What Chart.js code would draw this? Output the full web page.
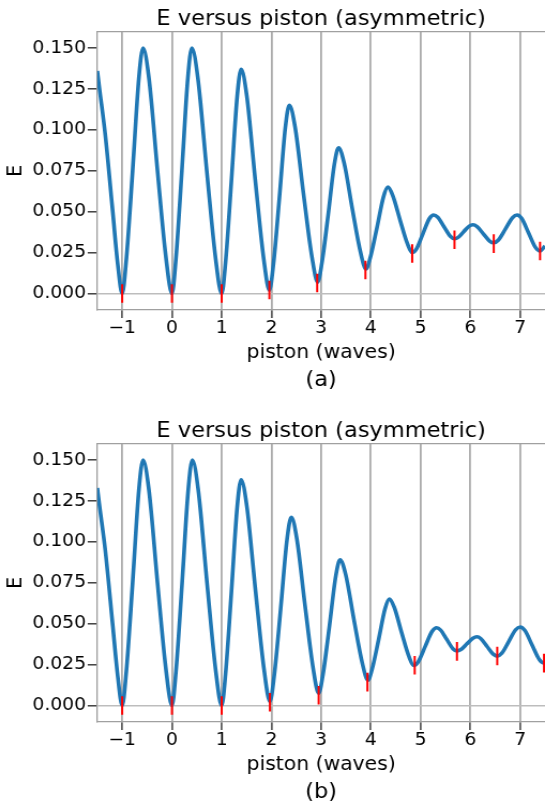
<!DOCTYPE html>
<html>
<head>
<meta charset="utf-8">
<script src="https://cdn.jsdelivr.net/npm/chart.js@4"></script>
<style>
  html, body { margin: 0; padding: 0; background: #fff; }
  body { width: 545px; height: 806px; position: relative; overflow: hidden; }
  canvas { position: absolute; left: 0; }
  #chartA { top: 0; }
  #chartB { top: 412px; }
</style>
</head>
<body>
<canvas id="chartA" width="509" height="394" style="width:545px;height:394px"></canvas>
<canvas id="chartB" width="509" height="394" style="width:545px;height:394px"></canvas>
<script>
// curve (a)
const pistonA = [-1.5, -1.46, -1.34, -1.19, -1.09, -1.0, -0.916, -0.79, -0.664, -0.58,
    -0.464, -0.29, -0.116, 0.0, 0.08, 0.2, 0.32, 0.40, 0.52, 0.70,
    0.88, 1.00, 1.078, 1.195, 1.312, 1.39, 1.504, 1.675, 1.846, 1.96,
    2.04, 2.16, 2.28, 2.36, 2.474, 2.645, 2.816, 2.93, 3.014, 3.14,
    3.266, 3.35, 3.46, 3.625, 3.79, 3.90, 3.988, 4.12, 4.252, 4.34,
    4.438, 4.585, 4.732, 4.83, 4.916, 5.045, 5.174, 5.26, 5.344, 5.47,
    5.596, 5.68, 5.754, 5.865, 5.976, 6.05, 6.134, 6.26, 6.386, 6.47,
    6.564, 6.705, 6.846, 6.94, 7.032, 7.17, 7.308, 7.40, 7.50];
const energyA = [0.136, 0.126, 0.097, 0.050, 0.018, 0.000, 0.021, 0.075, 0.132, 0.150,
    0.132, 0.075, 0.021, 0.000, 0.021, 0.075, 0.132, 0.150, 0.132, 0.075,
    0.021, 0.000, 0.019, 0.0685, 0.1206, 0.137, 0.121, 0.0695, 0.021, 0.002,
    0.0178, 0.0585, 0.1014, 0.115, 0.102, 0.061, 0.022, 0.007, 0.0185, 0.048,
    0.0792, 0.089, 0.080, 0.052, 0.0254, 0.015, 0.022, 0.040, 0.059, 0.065,
    0.060, 0.045, 0.0306, 0.025, 0.0273, 0.0365, 0.0457, 0.048, 0.0466, 0.0408,
    0.035, 0.0335, 0.0343, 0.0378, 0.0412, 0.042, 0.0409, 0.0365, 0.0321, 0.031,
    0.0327, 0.0395, 0.0463, 0.048, 0.0458, 0.037, 0.0282, 0.026, 0.029];

// curve (b)
const pistonB = [-1.5, -1.46, -1.34, -1.19, -1.09, -1.0, -0.916, -0.79, -0.664, -0.58,
    -0.464, -0.29, -0.116, 0.0, 0.082, 0.205, 0.328, 0.41, 0.528, 0.705,
    0.882, 1.0, 1.078, 1.195, 1.312, 1.39, 1.506, 1.68, 1.854, 1.97,
    2.056, 2.185, 2.314, 2.40, 2.51, 2.675, 2.84, 2.95, 3.036, 3.165,
    3.294, 3.38, 3.492, 3.66, 3.828, 3.94, 4.026, 4.155, 4.284, 4.37,
    4.468, 4.615, 4.762, 4.86, 4.952, 5.09, 5.228, 5.32, 5.402, 5.525,
    5.648, 5.73, 5.81, 5.93, 6.05, 6.13, 6.212, 6.335, 6.458, 6.54,
    6.632, 6.77, 6.908, 7.0, 7.096, 7.24, 7.384, 7.48, 7.5];
const energyB = [0.133, 0.123, 0.095, 0.049, 0.018, 0.0, 0.021, 0.075, 0.132, 0.150,
    0.132, 0.075, 0.021, 0.0, 0.021, 0.075, 0.132, 0.150, 0.132, 0.075,
    0.021, 0.0, 0.0193, 0.069, 0.1214, 0.138, 0.1217, 0.0703, 0.0215, 0.0025,
    0.0183, 0.0588, 0.1015, 0.115, 0.102, 0.0613, 0.0225, 0.0075, 0.0189, 0.0483,
    0.0792, 0.089, 0.0802, 0.0523, 0.0258, 0.0155, 0.0224, 0.0403, 0.0591, 0.065,
    0.0601, 0.0448, 0.0302, 0.0245, 0.0268, 0.036, 0.0452, 0.0475, 0.0461, 0.0404,
    0.0347, 0.0333, 0.0342, 0.0377, 0.0411, 0.042, 0.0408, 0.0361, 0.0314, 0.0302,
    0.032, 0.0391, 0.0462, 0.048, 0.0458, 0.037, 0.0282, 0.026, 0.0262];

// red minimum markers
const minPistonA = [-1, 0, 1, 1.96, 2.92, 3.89, 4.83, 5.68, 6.47, 7.40];
const minEnergyA = [0, 0, 0, 0.0022, 0.0064, 0.0144, 0.0245, 0.0329, 0.0305, 0.026];
const minPistonB = [-1, 0, 1, 1.97, 2.95, 3.93, 4.88, 5.73, 6.54, 7.48];
const minEnergyB = [0, 0, 0, 0.002, 0.0063, 0.0143, 0.0246, 0.0331, 0.0303, 0.0259];

const xTicks = [-1, 0, 1, 2, 3, 4, 5, 6, 7];
const yTicks = [0, 0.025, 0.05, 0.075, 0.1, 0.125, 0.15];

// the original figure is a little stretched sideways, canvas is 509 wide shown at 545
const squeeze = 545 / 509;
const spine = '#a0a0a0';

Chart.defaults.font.family = "'DejaVu Sans', sans-serif";
Chart.defaults.color = '#000';

const topSpine = {
    id: 'topSpine',
    afterDraw(chart) {
        const a = chart.chartArea, ctx = chart.ctx;
        ctx.save();
        ctx.strokeStyle = spine;
        ctx.lineWidth = 1.3;
        ctx.beginPath();
        ctx.moveTo(a.left, a.top);
        ctx.lineTo(a.right, a.top);
        ctx.stroke();
        ctx.restore();
    }
};

function toPoints(xs, ys) {
    return xs.map((x, i) => ({ x: x, y: ys[i] }));
}

function drawPanel(id, xs, ys, mx, my, caption) {
    new Chart(document.getElementById(id), {
        type: 'line',
        data: {
            datasets: [
                {
                    data: toPoints(mx, my),
                    showLine: false,
                    pointStyle: 'line',
                    pointRotation: 90,
                    pointRadius: 9.3,
                    pointHoverRadius: 9.3,
                    pointBorderColor: '#ff0000',
                    pointBorderWidth: 2
                },
                {
                    data: toPoints(xs, ys),
                    borderColor: '#1f77b4',
                    borderWidth: 3.6,
                    pointRadius: 0,
                    cubicInterpolationMode: 'monotone',
                    fill: false
                }
            ]
        },
        options: {
            responsive: false,
            animation: false,
            events: [],
            layout: { autoPadding: false, padding: { top: 0, left: 0, right: 0, bottom: 0.7 } },
            plugins: {
                legend: { display: false },
                tooltip: { enabled: false },
                title: {
                    display: true,
                    text: 'E versus piston (asymmetric)',
                    fullSize: false,
                    color: '#000',
                    font: { size: 21, weight: 'normal' },
                    padding: { top: 6.5, bottom: 0 }
                },
                subtitle: {
                    display: true,
                    position: 'bottom',
                    text: caption,
                    fullSize: false,
                    color: '#000',
                    font: { size: 21, weight: 'normal' },
                    padding: { top: 3.9, bottom: 0 }
                }
            },
            scales: {
                x: {
                    type: 'linear',
                    min: -1.5,
                    max: 7.5,
                    afterBuildTicks: s => { s.ticks = xTicks.map(v => ({ value: v })); },
                    grid: { color: '#ababab', lineWidth: 1.8, tickLength: 8, tickColor: '#333', tickWidth: 1.4 },
                    border: { color: spine, width: 1.3 },
                    ticks: {
                        font: { size: 17.5 },
                        padding: 0,
                        maxRotation: 0,
                        autoSkip: false,
                        callback: v => v < 0 ? '\u2212' + Math.abs(v) : String(v)
                    },
                    title: { display: true, text: 'piston (waves)', font: { size: 19 }, padding: { top: 2.5, bottom: 0 } }
                },
                y: {
                    type: 'linear',
                    min: -0.01,
                    max: 0.16,
                    afterBuildTicks: s => { s.ticks = yTicks.map(v => ({ value: v })); },
                    afterFit: s => { s.width = 97.3 / squeeze; },
                    grid: {
                        color: c => (c.tick && c.tick.value === 0 ? '#bdbdbd' : 'rgba(0,0,0,0)'),
                        lineWidth: 1.6,
                        tickLength: 9,
                        tickColor: '#333',
                        tickWidth: 1.4
                    },
                    border: { color: spine, width: 1.3 },
                    ticks: { font: { size: 17.5 }, padding: 1.5, callback: v => v.toFixed(3) },
                    title: { display: true, text: 'E', font: { size: 19 }, padding: { top: 3.3, bottom: 0 } }
                }
            }
        },
        plugins: [topSpine]
    });
}

drawPanel('chartA', pistonA, energyA, minPistonA, minEnergyA, '(a)');
drawPanel('chartB', pistonB, energyB, minPistonB, minEnergyB, '(b)');
</script>
</body>
</html>
